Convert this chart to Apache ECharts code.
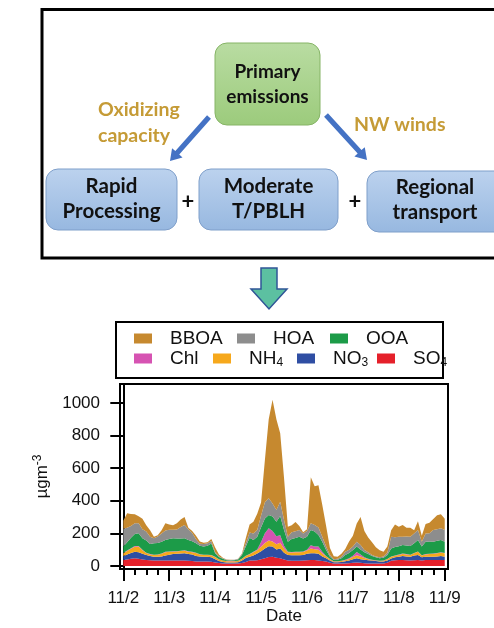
<!DOCTYPE html>
<html>
<head>
<meta charset="utf-8">
<script src="https://cdn.jsdelivr.net/npm/echarts@6/dist/echarts.min.js"></script>
<style>
  html, body { margin: 0; padding: 0; background: #fff; }
  #chart { width: 494px; height: 628px; }
</style>
</head>
<body>
<div id="chart"></div>
<script>
// Sampling times: hours after 11/2 00:00, every 2 hours through 11/9 00:00
const HOUR = 3600 * 1000;
const START = new Date(2000, 10, 2).getTime();
const hours = [];
for (let k = 0; k <= 84; k++) hours.push(k * 2);

// Species mass concentrations (µg m^-3), stacked bottom to top
const SO4 = [37,40,44,47,45, 40,37,35,33,33, 33,33,33,33,33, 33,33,32,30,27, 27,27,27,26,22,
  18,16,16,16,16, 16,18,25,33,33, 36,42,48,55,57, 50,47,40,33,32, 32,32,33,35,37,
  37,34,31,27,20, 16,16,16,16,17, 20,22,20,17,16, 16,16,16,16,20, 32,35,37,37,35,
  34,36,37,34,37, 37,37,37,37,37];
const NO3 = [24,30,36,41,40, 35,30,26,24,24, 26,32,36,40,42, 44,45,42,40,35, 31,30,30,28,20,
  12,8,6,6,6, 7,15,24,24,32, 40,48,60,66,62, 52,60,42,35,34, 34,34,34,40,41,
  41,41,28,20,13, 7,7,9,13,17, 21,25,21,21,19, 17,14,11,11,13, 14,18,20,24,24,
  23,28,30,20,20, 20,20,22,24,20];
const NH4 = [17,22,26,30,34, 22,12,10,10,12, 16,20,18,15,14, 15,16,14,15,17, 12,10,10,12,12,
  10,9,7,7,7, 8,10,12,15,20, 20,28,33,36,31, 31,35,25,16,17, 18,18,19,20,30,
  25,24,18,11,8, 5,5,6,7,9, 14,19,17,11,7, 4,4,4,5,8, 10,10,11,13,12,
  10,14,20,10,14, 16,17,19,21,21];
const Chl = [2,3,3,4,4, 3,2,2,2,2, 2,2,2,2,2, 2,2,2,2,2, 2,2,2,2,2,
  1,1,1,1,1, 1,1,2,2,3, 5,30,60,75,65, 50,47,18,4,3, 3,3,3,5,20,
  17,20,10,4,2, 1,1,1,2,4, 8,20,12,4,2, 1,1,1,1,2, 2,2,2,2,2,
  2,2,2,2,2, 2,2,2,2,2];
const OOA = [39,50,65,75,78, 70,75,62,70,70, 72,73,76,80,78, 75,74,70,65,58, 52,50,56,70,22,
  14,10,5,4,5, 8,23,56,100,72, 79,90,90,81,88, 89,117,96,61,80, 85,93,80,80,93,
  91,71,62,36,14, 8,10,15,29,32, 35,33,32,31,30, 23,19,15,18,24, 50,51,51,53,53,
  54,60,71,53,76, 75,73,75,76,69];
const HOA = [110,90,72,65,62, 55,55,45,31,40, 51,58,58,52,55, 70,82,65,51,25, 12,16,14,15,6,
  4,3,3,3,3, 3,6,20,31,40, 41,72,100,102,80, 72,88,61,31,41, 41,41,30,35,41,
  41,46,31,21,10, 4,6,10,21,21, 22,30,27,14,10, 6,5,6,8,15, 72,61,58,51,55,
  57,60,61,30,51, 51,72,71,71,72];
const BBOA = [49,88,73,56,42, 65,39,40,10,8, 20,44,32,28,38, 46,48,10,12,21, 14,8,6,12,30,
  11,3,2,1,1, 1,3,31,50,72, 99,80,259,485,637, 556,420,258,61,43, 57,24,8,10,283,
  238,259,195,126,43, 19,12,18,17,50, 65,111,171,117,91, 78,56,44,29,37, 40,78,62,72,54,
  55,20,54,36,58, 64,67,85,87,69];

// Axis ticks (hours after 11/2 00:00)
const dayTicks = [0, 24, 48, 72, 96, 120, 144, 168];
const dayLabels = ['11/2', '11/3', '11/4', '11/5', '11/6', '11/7', '11/8', '11/9'];
const quarterTicks = [];
for (let h = 0; h <= 168; h += 6) quarterTicks.push(h);
const yTicks = [0, 200, 400, 600, 800, 1000];

// Layers from bottom to top
const layers = [
  { name: 'SO4',  values: SO4,  color: '#e5202a' },
  { name: 'NO3',  values: NO3,  color: '#2f4ea3' },
  { name: 'NH4',  values: NH4,  color: '#f6a81c' },
  { name: 'Chl',  values: Chl,  color: '#d653b2' },
  { name: 'OOA',  values: OOA,  color: '#1c9b48' },
  { name: 'HOA',  values: HOA,  color: '#8d8d8d' },
  { name: 'BBOA', values: BBOA, color: '#c6892f' }
];

const FONT = "'Liberation Sans', Arial, sans-serif";
const DIAG_FONT = "Lato, 'Open Sans', sans-serif";

// legend entries: order, rich label, position
const legendOrder = ['BBOA', 'HOA', 'OOA', 'Chl', 'NH4', 'NO3', 'SO4'];
const legendText = {
  BBOA: '{n|BBOA}', HOA: '{n|HOA}', OOA: '{n|OOA}', Chl: '{n|Chl}',
  NH4: '{n|NH}{s|4}', NO3: '{n|NO}{s|3}', SO4: '{n|SO}{s|4}'
};
const legendPos = {
  BBOA: [134, 329], HOA: [237, 329], OOA: [330, 329],
  Chl: [134, 349], NH4: [213, 349], NO3: [297, 349], SO4: [377, 349]
};

function arrowPoints(x1, y1, x2, y2, shaftHalf, headLen, headHalf) {
  const dx = x2 - x1, dy = y2 - y1;
  const len = Math.hypot(dx, dy);
  const ux = dx / len, uy = dy / len;
  const nx = -uy, ny = ux;
  const bx = x2 - ux * headLen, by = y2 - uy * headLen;
  return [
    [x1 + nx * shaftHalf, y1 + ny * shaftHalf],
    [bx + nx * shaftHalf, by + ny * shaftHalf],
    [bx + nx * headHalf, by + ny * headHalf],
    [x2, y2],
    [bx - nx * headHalf, by - ny * headHalf],
    [bx - nx * shaftHalf, by - ny * shaftHalf],
    [x1 - nx * shaftHalf, y1 - ny * shaftHalf]
  ];
}

const blueFill = {
  type: 'linear', x: 0, y: 0, x2: 0, y2: 1,
  colorStops: [{ offset: 0, color: '#bcd2ee' }, { offset: 1, color: '#97b8e0' }]
};
const greenFill = {
  type: 'linear', x: 0, y: 0, x2: 0, y2: 1,
  colorStops: [{ offset: 0, color: '#b9dca2' }, { offset: 1, color: '#9ccb7c' }]
};

function boxText(text, x, y, size) {
  return {
    type: 'text', z: 10,
    style: {
      text: text, x: x, y: y, align: 'center', verticalAlign: 'middle',
      font: 'bold ' + size + 'px ' + DIAG_FONT, lineHeight: 25, fill: '#111'
    }
  };
}

const graphics = [
  // scheme frame
  { type: 'rect', z: 1, shape: { x: 42, y: 9.5, width: 480, height: 248.5 },
    style: { fill: '#fff', stroke: '#000', lineWidth: 3 } },
  { type: 'rect', z: 5, shape: { x: 215, y: 43, width: 105, height: 82, r: 12 },
    style: { fill: greenFill, stroke: '#86b466', lineWidth: 1 } },
  { type: 'rect', z: 5, shape: { x: 46, y: 169, width: 131, height: 61, r: 12 },
    style: { fill: blueFill, stroke: '#7f9fca', lineWidth: 1 } },
  { type: 'rect', z: 5, shape: { x: 199, y: 169, width: 139, height: 61, r: 12 },
    style: { fill: blueFill, stroke: '#7f9fca', lineWidth: 1 } },
  { type: 'rect', z: 5, shape: { x: 367, y: 171, width: 150, height: 61, r: 12 },
    style: { fill: blueFill, stroke: '#7f9fca', lineWidth: 1 } },
  boxText('Primary\nemissions', 267.5, 84.5, 19),
  boxText('Rapid\nProcessing', 111.5, 199, 20.5),
  boxText('Moderate\nT/PBLH', 268.5, 199, 20.5),
  boxText('Regional\ntransport', 435, 200, 20.5),
  { type: 'text', z: 10, style: { text: '+', x: 188, y: 202, align: 'center', verticalAlign: 'middle',
      font: 'bold 22px ' + DIAG_FONT, fill: '#111' } },
  { type: 'text', z: 10, style: { text: '+', x: 355, y: 202, align: 'center', verticalAlign: 'middle',
      font: 'bold 22px ' + DIAG_FONT, fill: '#111' } },
  { type: 'text', z: 10, style: { text: 'Oxidizing\ncapacity', x: 98, y: 123, align: 'left', verticalAlign: 'middle',
      font: 'bold 19.5px ' + DIAG_FONT, lineHeight: 26, fill: '#c59b36' } },
  { type: 'text', z: 10, style: { text: 'NW winds', x: 354, y: 125, align: 'left', verticalAlign: 'middle',
      font: 'bold 19.5px ' + DIAG_FONT, fill: '#c59b36' } },
  { type: 'polygon', z: 8, shape: { points: arrowPoints(209, 117, 170, 161, 2.6, 11, 7) },
    style: { fill: '#4472c4' } },
  { type: 'polygon', z: 8, shape: { points: arrowPoints(326, 115, 367, 160, 2.6, 11, 7) },
    style: { fill: '#4472c4' } },
  // downward block arrow
  { type: 'polygon', z: 8,
    shape: { points: [[261, 268], [277, 268], [277, 289], [287, 289], [269, 309], [251, 289], [261, 289]] },
    style: { fill: '#5cc0a1', stroke: '#2f5597', lineWidth: 1.5 } },
  // legend frame
  { type: 'rect', z: 1, shape: { x: 116, y: 322, width: 327, height: 56 },
    style: { fill: 'none', stroke: '#000', lineWidth: 2 } }
];

const legends = legendOrder.map(name => ({
  data: [name],
  left: legendPos[name][0],
  top: legendPos[name][1],
  padding: 0,
  itemWidth: 18,
  itemHeight: 10,
  icon: 'rect',
  selectedMode: false,
  formatter: () => legendText[name],
  textStyle: {
    color: '#111',
    rich: {
      n: { fontFamily: FONT, fontSize: 19, lineHeight: 20, padding: [0, 0, 0, 13], color: '#111' },
      s: { fontFamily: FONT, fontSize: 12, lineHeight: 10, verticalAlign: 'bottom', color: '#111' }
    }
  }
}));

const H_MIN = -1.73, H_MAX = 169.7;

const chart = echarts.init(document.getElementById('chart'), null, { renderer: 'canvas' });
chart.setOption({
  animation: false,
  backgroundColor: '#fff',
  graphic: graphics,
  legend: legends,
  grid: {
    left: 120, right: 46, top: 384, bottom: 59,
    show: true, borderColor: '#000', borderWidth: 2, containLabel: false
  },
  xAxis: [
    // time axis carrying the stacked series
    {
      type: 'time', min: START + H_MIN * HOUR, max: START + H_MAX * HOUR,
      axisLine: { show: false }, axisTick: { show: false },
      axisLabel: { show: false }, splitLine: { show: false }
    },
    // day ticks and labels, in hours after 11/2 00:00
    {
      type: 'value', min: H_MIN, max: H_MAX, position: 'bottom',
      name: 'Date', nameLocation: 'middle', nameGap: 27,
      nameTextStyle: { fontFamily: FONT, fontSize: 17, color: '#111' },
      axisLine: { show: true, lineStyle: { color: '#000', width: 2 } },
      axisTick: { show: true, customValues: dayTicks, length: 12, lineStyle: { color: '#000', width: 2 } },
      axisLabel: {
        show: true, customValues: dayTicks, margin: 21,
        fontFamily: FONT, fontSize: 17, color: '#111',
        formatter: v => dayLabels[dayTicks.indexOf(Math.round(v))]
      },
      splitLine: { show: false }
    },
    // 6-hour minor ticks
    {
      type: 'value', min: H_MIN, max: H_MAX, position: 'bottom',
      axisLine: { show: false },
      axisTick: { show: true, customValues: quarterTicks, length: 6, lineStyle: { color: '#000', width: 2 } },
      axisLabel: { show: false },
      splitLine: { show: false }
    }
  ],
  yAxis: {
    type: 'value', min: -18.4, max: 1116.6,
    name: '{a|µgm}{b|-3}', nameLocation: 'middle', nameGap: 47, nameRotate: 90,
    nameTextStyle: {
      rich: {
        a: { fontFamily: FONT, fontSize: 17, lineHeight: 22, color: '#111' },
        b: { fontFamily: FONT, fontSize: 12, lineHeight: 12, verticalAlign: 'top', color: '#111' }
      }
    },
    axisLine: { show: true, lineStyle: { color: '#000', width: 2 } },
    axisTick: { show: true, customValues: yTicks, length: 13, lineStyle: { color: '#000', width: 2 } },
    axisLabel: {
      show: true, customValues: yTicks, margin: 20, fontFamily: FONT, fontSize: 17, color: '#111',
      formatter: v => String(Math.round(v))
    },
    splitLine: { show: false }
  },
  series: layers.map(l => ({
    name: l.name,
    type: 'line',
    stack: 'total',
    xAxisIndex: 0,
    symbol: 'none',
    smooth: false,
    color: l.color,
    lineStyle: { width: 0 },
    areaStyle: { color: l.color, opacity: 1 },
    data: hours.map((h, i) => [START + h * HOUR, l.values[i]])
  }))
});
</script>
</body>
</html>
